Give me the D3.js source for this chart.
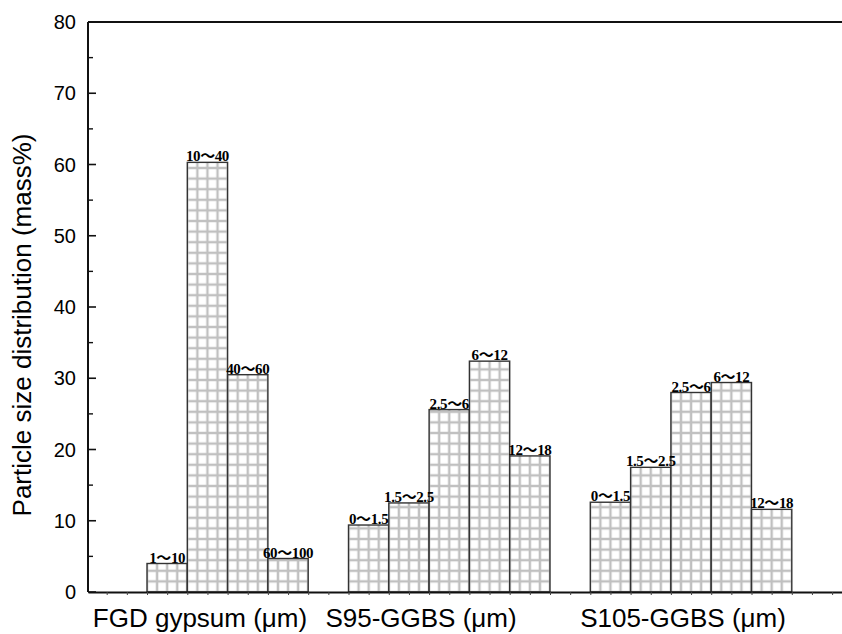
<!DOCTYPE html>
<html>
<head>
<meta charset="utf-8">
<script src="https://cdn.jsdelivr.net/npm/d3@7/dist/d3.min.js"></script>
<style>
  html, body { margin: 0; padding: 0; background: #fff; }
  svg { display: block; }
</style>
</head>
<body>
<svg id="chart" width="842" height="634"></svg>
<script>
// Materials along the x axis
const groups = ["FGD gypsum (\u03bcm)", "S95-GGBS (\u03bcm)", "S105-GGBS (\u03bcm)"];

// Size-class bounds (µm) for each material, written as "low～high"
const fgdClasses  = ["1\uFF5E10", "10\uFF5E40", "40\uFF5E60", "60\uFF5E100"];
const s95Classes  = ["0\uFF5E1.5", "1.5\uFF5E2.5", "2.5\uFF5E6", "6\uFF5E12", "12\uFF5E18"];
const s105Classes = ["0\uFF5E1.5", "1.5\uFF5E2.5", "2.5\uFF5E6", "6\uFF5E12", "12\uFF5E18"];

// Mass fraction (%) in each size class
const fgdValues  = [4.0, 60.3, 30.5, 4.7];
const s95Values  = [9.4, 12.5, 25.6, 32.4, 19.1];
const s105Values = [12.6, 17.5, 28.0, 29.4, 11.6];

// Y axis ticks
const yTicks = [0, 10, 20, 30, 40, 50, 60, 70, 80];

// ---- layout ----
const axisLeft = 88, axisRight = 842, axisTop = 22, axisBottom = 592;
const firstBarX = 147, slotW = 40.3;
const groupLabelX = [200, 421, 683];

const svg = d3.select("#chart");

const y = d3.scaleLinear().domain([0, 80]).range([axisBottom, axisTop]);
// x in "bar slot" units; one bar per slot, one empty slot between materials
const x = d3.scaleLinear()
  .domain([(axisLeft - firstBarX) / slotW, (axisRight - firstBarX) / slotW])
  .range([axisLeft, axisRight]);

const classSets = [fgdClasses, s95Classes, s105Classes];
const valueSets = [fgdValues, s95Values, s105Values];

const bars = [];
let slot = 0;
classSets.forEach((cls, g) => {
  cls.forEach((c, i) => {
    bars.push({ group: g, label: c, value: valueSets[g][i], slot: slot + i });
  });
  slot += cls.length + 1;
});

// grid-hatch fill, anchored to the first bar and the baseline
const cellW = (x(1) - x(0)) / 4;
const cellH = 10.6;
const defs = svg.append("defs");
const pat = defs.append("pattern")
  .attr("id", "grid")
  .attr("patternUnits", "userSpaceOnUse")
  .attr("x", x(0)).attr("y", y(0))
  .attr("width", cellW).attr("height", cellH);
pat.append("rect").attr("width", cellW).attr("height", cellH).attr("fill", "#c0c0c0");
pat.append("rect").attr("x", 1.2).attr("y", 1.2)
  .attr("width", cellW - 2.4).attr("height", cellH - 2.4).attr("fill", "#fff");

// bars
svg.append("g").selectAll("rect")
  .data(bars)
  .join("rect")
  .attr("x", d => x(d.slot))
  .attr("y", d => y(d.value))
  .attr("width", d => x(d.slot + 1) - x(d.slot))
  .attr("height", d => y(0) - y(d.value))
  .attr("fill", "url(#grid)")
  .attr("stroke", "#333")
  .attr("stroke-width", 1.4);

// size-class labels above bars; the full-width tilde is set in a CJK face
const labels = svg.append("g").selectAll("text")
  .data(bars)
  .join("text")
  .attr("x", d => x(d.slot + 0.5))
  .attr("y", d => y(d.value) - 1)
  .attr("text-anchor", "middle")
  .attr("font-family", "'Liberation Serif', 'Times New Roman', serif")
  .attr("font-weight", "bold")
  .attr("font-size", 15)
  .attr("letter-spacing", -0.4)
  .attr("fill", "#000");
labels.each(function (d) {
  const parts = d.label.split("\uFF5E");
  const t = d3.select(this);
  t.append("tspan").text(parts[0]);
  t.append("tspan")
    .attr("font-family", "'Noto Sans CJK SC', 'Noto Sans CJK JP', sans-serif")
    .attr("font-weight", "bold")
    .text("\uFF5E");
  t.append("tspan").text(parts[1]);
});

// y axis: major ticks every 10, minor every 5, pointing inward
const yAxis = svg.append("g").attr("transform", `translate(${axisLeft},0)`);
yAxis.append("line")
  .attr("x1", 0).attr("x2", 0).attr("y1", axisTop).attr("y2", axisBottom)
  .attr("stroke", "#111").attr("stroke-width", 2);
yAxis.selectAll("line.major").data(yTicks).join("line").attr("class", "major")
  .attr("x1", 0).attr("x2", 8).attr("y1", d => y(d)).attr("y2", d => y(d))
  .attr("stroke", "#111").attr("stroke-width", 1.6);
yAxis.selectAll("line.minor").data(d3.range(5, 80, 10)).join("line").attr("class", "minor")
  .attr("x1", 0).attr("x2", 5).attr("y1", d => y(d)).attr("y2", d => y(d))
  .attr("stroke", "#111").attr("stroke-width", 1.4);
yAxis.selectAll("text").data(yTicks).join("text")
  .attr("x", -12).attr("y", d => y(d)).attr("dy", "0.36em")
  .attr("text-anchor", "end")
  .attr("font-family", "'Liberation Sans', Arial, sans-serif")
  .attr("font-size", 20)
  .attr("fill", "#000")
  .text(d => d);

// top frame line
svg.append("line")
  .attr("x1", axisLeft).attr("x2", axisRight).attr("y1", axisTop).attr("y2", axisTop)
  .attr("stroke", "#111").attr("stroke-width", 2);

// bottom axis with small ticks every half slot
const xAxis = d3.axisBottom(x)
  .tickValues(d3.range(-1, 17.01, 0.5))
  .tickSize(3)
  .tickSizeOuter(0)
  .tickFormat("");
const gx = svg.append("g").attr("transform", `translate(0,${axisBottom})`).call(xAxis);
gx.select(".domain").attr("stroke", "#111").attr("stroke-width", 2);
gx.selectAll(".tick line").attr("stroke", "#444").attr("stroke-width", 1);

// material names under the axis
svg.append("g").selectAll("text")
  .data(groups)
  .join("text")
  .attr("x", (d, i) => groupLabelX[i])
  .attr("y", 627)
  .attr("text-anchor", "middle")
  .attr("font-family", "'Liberation Sans', Arial, sans-serif")
  .attr("font-size", 26)
  .attr("fill", "#000")
  .text(d => d);

// y axis title
svg.append("text")
  .attr("transform", `translate(31,325) rotate(-90)`)
  .attr("text-anchor", "middle")
  .attr("font-family", "'Liberation Sans', Arial, sans-serif")
  .attr("font-size", 26)
  .attr("fill", "#000")
  .text("Particle size distribution (mass%)");
</script>
</body>
</html>
